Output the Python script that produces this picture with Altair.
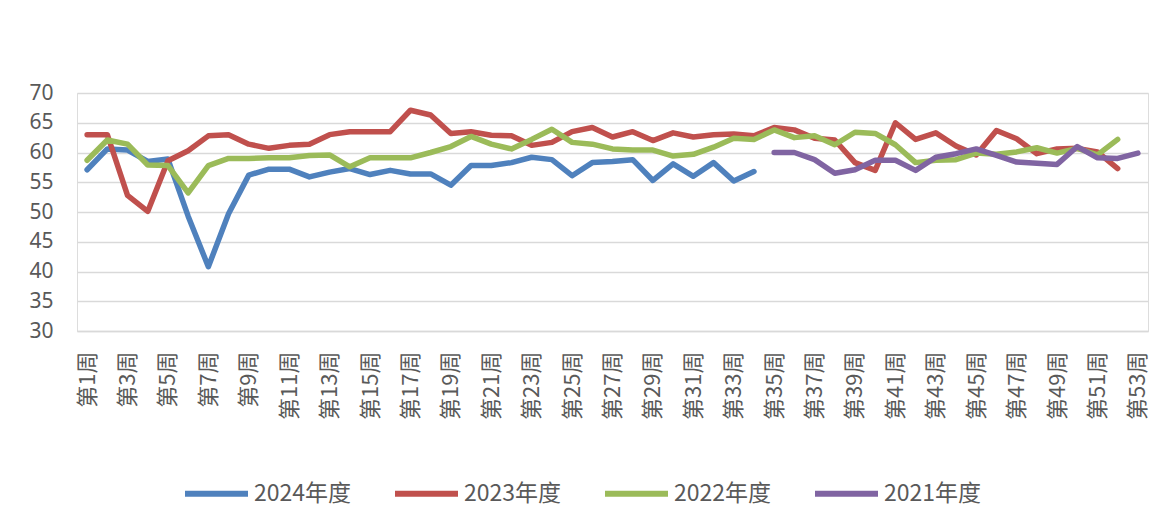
import altair as alt
import pandas as pd

weeks = [f"第{i}周" for i in range(1, 54)]
series_names = ["2024年度", "2023年度", "2022年度", "2021年度"]
colors = ["#4F81BD", "#C0504D", "#9BBB59", "#8064A2"]
y_ticks = [30, 35, 40, 45, 50, 55, 60, 65, 70]
x_label_weeks = [f"第{i}周" for i in range(1, 54, 2)]

v2024 = [57.1, 60.6, 60.4, 58.5, 58.9, 49.3, 40.8, 49.7, 56.2, 57.2,
         57.2, 55.9, 56.7, 57.3, 56.3, 57.0, 56.4, 56.4, 54.5, 57.8,
         57.8, 58.3, 59.2, 58.8, 56.1, 58.3, 58.5, 58.8, 55.3, 58.1,
         56.0, 58.3, 55.2, 56.8]
v2023 = [63.0, 63.0, 52.8, 50.1, 58.6, 60.3, 62.8, 63.0, 61.4, 60.7,
         61.2, 61.4, 63.0, 63.5, 63.5, 63.5, 67.1, 66.3, 63.2, 63.5,
         62.9, 62.8, 61.2, 61.7, 63.5, 64.2, 62.6, 63.5, 62.0, 63.3,
         62.6, 63.0, 63.1, 62.8, 64.2, 63.8, 62.4, 62.1, 58.3, 57.0,
         65.0, 62.2, 63.3, 61.1, 59.6, 63.7, 62.3, 59.8, 60.6, 60.7,
         60.1, 57.3]
v2022 = [58.7, 62.1, 61.4, 57.9, 57.8, 53.2, 57.8, 59.0, 59.0, 59.1,
         59.1, 59.5, 59.6, 57.6, 59.1, 59.1, 59.1, 60.0, 61.0, 62.7,
         61.4, 60.6, 62.2, 63.9, 61.7, 61.4, 60.6, 60.4, 60.4, 59.4,
         59.7, 60.9, 62.4, 62.2, 63.8, 62.5, 62.8, 61.3, 63.4, 63.2,
         61.3, 58.3, 58.7, 58.8, 59.9, 59.7, 60.1, 60.8, 59.9, 60.7,
         59.6, 62.2]
v2021_start = 35
v2021 = [60.0, 60.0, 58.8, 56.5, 57.1, 58.7, 58.7, 57.0, 59.2, 59.8,
         60.6, 59.5, 58.4, 58.2, 58.0, 61.0, 59.1, 59.0, 59.9]

rows = []
for name, vals, start in [("2024年度", v2024, 1), ("2023年度", v2023, 1),
                          ("2022年度", v2022, 1), ("2021年度", v2021, v2021_start)]:
    for k, v in enumerate(vals):
        rows.append({"week": weeks[start - 1 + k], "series": name, "value": v})
df = pd.DataFrame(rows)

FONT = "Noto Sans CJK SC"

chart = alt.Chart(df).mark_line(
    strokeWidth=5.5, strokeCap="round", strokeJoin="round"
).encode(
    x=alt.X("week:N", sort=weeks,
            scale=alt.Scale(type="point", padding=0.5, domain=weeks),
            axis=alt.Axis(values=x_label_weeks, labelAngle=-90, labelFontSize=22,
                          labelColor="#595959", labelFont=FONT, ticks=False,
                          domain=True, domainColor="#D9D9D9", domainWidth=1.5,
                          grid=False, title=None, labelPadding=20)),
    y=alt.Y("value:Q", scale=alt.Scale(domain=[30, 70], nice=False, zero=False),
            axis=alt.Axis(values=y_ticks, grid=True, gridColor="#D9D9D9", gridWidth=1.5,
                          domain=False, ticks=False, labelFontSize=21, labelFont="Noto Sans",
                          labelColor="#595959", labelPadding=24, title=None)),
    color=alt.Color("series:N", sort=series_names,
                    scale=alt.Scale(domain=series_names, range=colors),
                    legend=alt.Legend(orient="none", legendX=105, legendY=366,
                                      direction="horizontal", symbolType="stroke",
                                      symbolSize=3969, symbolStrokeWidth=6,
                                      labelFontSize=23, labelFont=FONT,
                                      labelColor="#595959", labelOffset=3,
                                      columnPadding=31, title=None)),
    order=alt.Order("series:N")
).properties(
    width=1071, height=238,
    padding={"left": 77, "top": 93, "right": 18, "bottom": 186},
    autosize=alt.AutoSizeParams(type="none")
).configure_view(stroke=None).configure(background="white")

chart.save("out.html", embed_options={"renderer": "svg", "actions": False})
